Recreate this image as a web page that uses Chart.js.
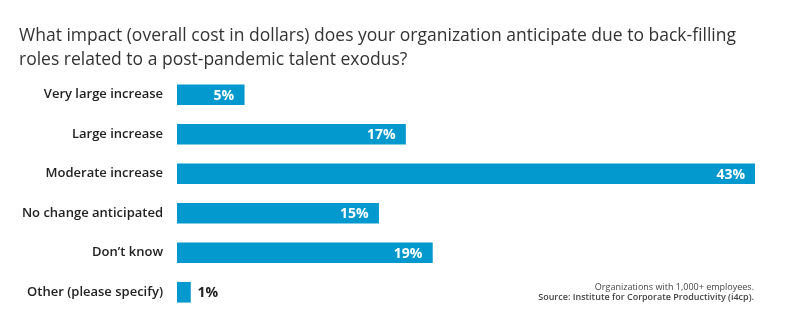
<!DOCTYPE html>
<html>
<head>
<meta charset="utf-8">
<script src="https://cdn.jsdelivr.net/npm/chart.js@4.4.1/dist/chart.umd.min.js"></script>
<style>
  html, body { margin: 0; padding: 0; background: #fff; }
  #wrap { width: 788px; height: 323px; position: relative; }
</style>
</head>
<body>
<div id="wrap"><canvas id="chart"></canvas></div>
<script>
const titleLines = [
    'What impact (overall cost in dollars) does your organization anticipate due to back-filling',
    'roles related to a post-pandemic talent exodus?'
];
const categories = [
    'Very large increase',
    'Large increase',
    'Moderate increase',
    'No change anticipated',
    'Don\u2019t know',
    'Other (please specify)'
];
const values = [5, 17, 43, 15, 19, 1];
const footnotes = [
    'Organizations with 1,000+ employees.',
    'Source: Institute for Corporate Productivity (i4cp).'
];

const barColor = '#0399cf';
const fontFamily = '"Open Sans", "DejaVu Sans", sans-serif';

// title and footnote drawn straight on the canvas
const textPlugin = {
    id: 'textPlugin',
    afterDraw(chart) {
        const ctx = chart.ctx;
        ctx.save();
        ctx.fillStyle = '#333';
        ctx.textAlign = 'left';
        ctx.textBaseline = 'alphabetic';
        ctx.font = '18px ' + fontFamily;
        // the original type is a little narrower, squeeze to the same line length
        const sx = 717 / ctx.measureText(titleLines[0]).width;
        ctx.save();
        ctx.translate(19, 0);
        ctx.scale(sx, 1);
        ctx.fillText(titleLines[0], 0, 41);
        ctx.fillText(titleLines[1], 0, 65);
        ctx.restore();

        ctx.textAlign = 'right';
        ctx.fillStyle = '#444';
        ctx.font = '9px ' + fontFamily;
        ctx.fillText(footnotes[0], 754, 290);
        ctx.font = '600 9px ' + fontFamily;
        ctx.fillText(footnotes[1], 754, 300);
        ctx.restore();
    }
};

// percentage labels on the bars
const valueLabels = {
    id: 'valueLabels',
    afterDatasetsDraw(chart) {
        const ctx = chart.ctx;
        const meta = chart.getDatasetMeta(0);
        ctx.save();
        ctx.font = 'bold 14px ' + fontFamily;
        ctx.textBaseline = 'middle';
        meta.data.forEach((bar, i) => {
            const text = values[i] + '%';
            if (values[i] >= 3) {
                ctx.fillStyle = '#fff';
                ctx.textAlign = 'right';
                ctx.fillText(text, bar.x - 10, bar.y + 1);
            } else {
                ctx.fillStyle = '#222';
                ctx.textAlign = 'left';
                ctx.fillText(text, bar.x + 7, bar.y + 1);
            }
        });
        ctx.restore();
    }
};

const ctx = document.getElementById('chart').getContext('2d');
const chart = new Chart(ctx, {
    type: 'bar',
    data: {
        labels: categories,
        datasets: [{
            data: values,
            backgroundColor: barColor,
            borderWidth: 0,
            barThickness: 20
        }]
    },
    options: {
        indexAxis: 'y',
        responsive: true,
        maintainAspectRatio: false,
        animation: false,
        layout: {
            padding: { top: 75, right: 33, bottom: 11, left: 0 }
        },
        scales: {
            x: {
                display: false,
                min: 0,
                max: 43
            },
            y: {
                afterFit(scale) {
                    scale.width = 177;
                    // labels sit in the middle of each band, no extra room needed
                    scale.paddingTop = 0;
                    scale.paddingBottom = 0;
                },
                grid: { display: false, drawTicks: false },
                border: { display: false },
                ticks: {
                    padding: 14,
                    color: '#222',
                    font: { family: fontFamily, size: 13, weight: '600' }
                }
            }
        },
        plugins: {
            legend: { display: false },
            tooltip: { enabled: false }
        }
    },
    plugins: [textPlugin, valueLabels]
});
</script>
</body>
</html>
